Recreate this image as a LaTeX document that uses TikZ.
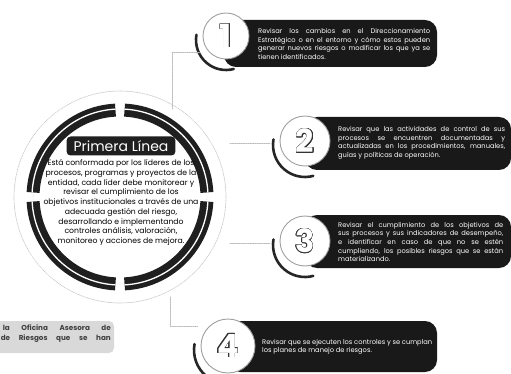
\documentclass[tikz,border=0pt]{standalone}
\usepackage{fontspec}
\setmainfont{Poppins}
\usepackage{contour}
\contourlength{0.45pt}
\hyphenpenalty=10000
\exhyphenpenalty=10000
\begin{document}
\begin{tikzpicture}[x=1pt, y=-1pt, line join=round, line cap=round,
	ring/.style={line width=13pt, black!88, line cap=butt},
	conn/.style={gray!55, densely dotted, line width=0.8pt},
	sombra/.style={line width=2.6pt, black!85},
	num/.style={circle, draw=gray!75, line width=0.9pt, fill=white, inner sep=0pt, text=white, font=\fontsize{32}{32}\selectfont\bfseries},
	tab/.style={fill=black!90, rounded corners=12pt},
	txt/.style={anchor=west, text=white, align=justify, inner sep=0pt, font=\fontsize{6.7}{8.6}\selectfont}]
	\useasboundingbox (0,0) rectangle (511,374);
	\def\R{87}
	\coordinate (o) at (120,197);
	% anillo central
	\draw[gray!45, densely dotted, line width=0.7pt] (o) circle[radius=106];
	\draw[gray!60, dotted] (o) circle[radius=\R];
	\foreach \a in {0,90,180,270}{
		\draw[ring] (o) ++({\a+3}:\R) arc[start angle=\a+3, end angle=\a+87, radius=\R];
		\draw[white, line width=1.3pt, line cap=butt] (o) ++({\a+3}:{\R+1}) arc[start angle=\a+3, end angle=\a+87, radius=\R+1];
	}
	\node[fill=black!88, rounded corners=4pt, text=white, font=\fontsize{14}{14}\selectfont, inner xsep=7pt, inner ysep=1pt, minimum height=19pt] (titulo) at (121,146) {Primera Línea};
	\node[anchor=north, align=center, inner sep=0pt, font=\fontsize{7.7}{9.75}\selectfont] (cuerpo) at (121,159.5) {Está conformada por los líderes de los\\procesos, programas y proyectos de la\\entidad, cada líder debe monitorear y\\revisar el cumplimiento de los\\objetivos institucionales a través de una\\adecuada gestión del riesgo,\\desarrollando  e implementando\\controles análisis, valoración,\\monitoreo y acciones de mejora.};
	% cajas
	\fill[tab] (224,20) rectangle (437,67);
	\fill[tab] (305,117) rectangle (511,170);
	\fill[tab] (305,215) rectangle (511,268);
	\fill[tab] (228,321) rectangle (437,372);
	\node[txt, text width=172pt] (t1) at (258,44) {Revisar los cambios en el Direccionamiento Estratégico o en el entorno y cómo estos pueden generar nuevos riesgos o modificar los que ya se tienen identificados.};
	\node[txt, text width=167pt] (t2) at (338,143) {Revisar que las actividades de control de sus procesos se encuentren documentadas y actualizadas en los procedimientos, manuales, guías y políticas de operación.};
	\node[txt, text width=165pt] (t3) at (338,242) {Revisar el cumplimiento de los objetivos de sus procesos y sus indicadores de desempeño, e identificar en caso de que no se estén cumpliendo, los posibles riesgos que se están materializando.};
	\node[txt, text width=170pt] (t4) at (262,347) {Revisar que se ejecuten los controles y se cumplan los planes de manejo de riesgos.};
	% numeros
	\draw[sombra] (226,40) ++(190:30) arc[start angle=190, end angle=75, radius=30];
	\draw[sombra] (305,145) ++(190:32) arc[start angle=190, end angle=75, radius=32];
	\draw[sombra] (305,245) ++(190:32) arc[start angle=190, end angle=75, radius=32];
	\draw[sombra] (228,350) ++(190:34) arc[start angle=190, end angle=75, radius=34];
	\node[num, minimum size=46pt] (n1) at (226,36) {\contour{black!80}{1}};
	\node[num, minimum size=50pt] (n2) at (305,141) {\contour{black!80}{2}};
	\node[num, minimum size=50pt] (n3) at (305,241) {\contour{black!80}{3}};
	\node[num, minimum size=54pt] (n4) at (228,346) {\contour{black!80}{4}};
	% conectores
	\coordinate (k1) at (172,109); \coordinate (e1) at (200,52);
	\coordinate (k2) at (230,143); \coordinate (e2) at (270,143);
	\coordinate (k3) at (230,243); \coordinate (e3) at (270,243);
	\coordinate (k4) at (170,297); \coordinate (e4) at (198,326);
	\draw[conn] (k1) |- (e1);
	\draw[conn] (k2) -- (e2);
	\draw[conn] (k3) -- (e3);
	\draw[conn] (k4) |- (e4);
	% nota
	\fill[gray!30, rounded corners=5pt] (-10,321) rectangle (114,353);
	\node[anchor=north east, align=right, inner sep=0pt, text=black!75, font=\fontsize{7.2}{9.5}\selectfont\bfseries] (nota) at (111,325) {\makebox[108pt][s]{la Oficina Asesora de}\\\makebox[110pt][s]{de Riesgos que se han}};
\end{tikzpicture}
\end{document}
